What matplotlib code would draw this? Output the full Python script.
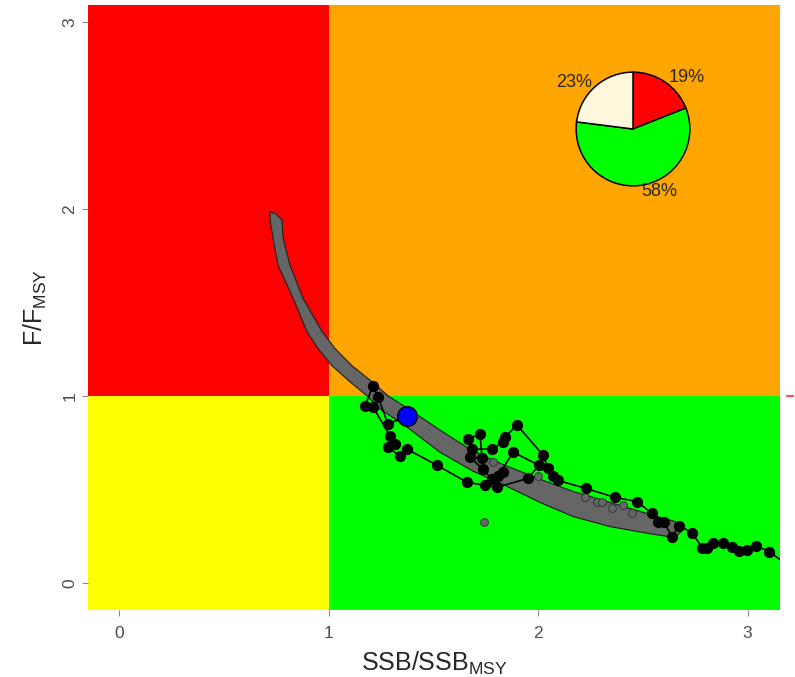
import matplotlib
matplotlib.use('Agg')
import matplotlib.pyplot as plt
from matplotlib.patches import Polygon
import numpy as np

plt.rcParams['font.family'] = ['Liberation Sans', 'DejaVu Sans']
plt.rcParams['mathtext.fontset'] = 'custom'
plt.rcParams['mathtext.rm'] = 'Liberation Sans'
plt.rcParams['mathtext.it'] = 'Liberation Sans'

# ---------------- data ----------------
b_ref = 1.0
f_ref = 1.0
x_ticks = [0, 1, 2, 3]
y_ticks = [0, 1, 2, 3]

# historical trajectory (SSB/SSBmsy, F/Fmsy), oldest first
traj_ssb = [3.203, 3.103, 3.041, 2.998, 2.959, 2.924, 2.881, 2.835, 2.807, 2.783,
            2.735, 2.673, 2.640, 2.601, 2.573, 2.544, 2.473, 2.368, 2.229, 2.095,
            2.072, 2.048, 2.024, 1.900, 1.842, 1.833, 1.780, 1.685, 1.666, 1.723,
            1.733, 1.675, 1.737, 1.780, 1.833, 1.809, 1.881, 2.005, 1.952, 1.804,
            1.747, 1.661, 1.518, 1.375, 1.341, 1.284, 1.317, 1.294, 1.212, 1.174,
            1.212, 1.236, 1.284]
traj_f = [0.086, 0.167, 0.199, 0.177, 0.172, 0.194, 0.215, 0.215, 0.188, 0.188,
          0.269, 0.306, 0.247, 0.323, 0.328, 0.371, 0.435, 0.457, 0.505, 0.548,
          0.570, 0.613, 0.683, 0.844, 0.780, 0.753, 0.715, 0.715, 0.769, 0.796,
          0.667, 0.672, 0.608, 0.554, 0.591, 0.570, 0.699, 0.629, 0.559, 0.511,
          0.522, 0.538, 0.629, 0.715, 0.677, 0.726, 0.742, 0.785, 0.941, 0.946,
          1.054, 0.995, 0.849]

# current status
cur_ssb = [1.375]
cur_f = [0.892]

# posterior cloud outline (upper edge left->right, lower edge right->left)
cloud_up_ssb = [0.721, 0.749, 0.778, 0.783, 0.816, 0.878, 0.969, 1.031, 1.112, 1.208,
                1.284, 1.375, 1.532, 1.690, 1.852, 2.010, 2.167, 2.344, 2.535, 2.654,
                2.692]
cloud_up_f = [1.984, 1.973, 1.941, 1.844, 1.699, 1.522, 1.344, 1.253, 1.161, 1.075,
              1.000, 0.935, 0.817, 0.704, 0.624, 0.554, 0.489, 0.430, 0.366, 0.328,
              0.285]
cloud_lo_ssb = [2.654, 2.535, 2.344, 2.167, 2.010, 1.852, 1.690, 1.532, 1.375, 1.246,
                1.184, 1.103, 1.017, 0.950, 0.897, 0.831, 0.759, 0.735, 0.721]
cloud_lo_f = [0.242, 0.263, 0.301, 0.355, 0.430, 0.516, 0.597, 0.699, 0.833, 0.930,
              1.000, 1.075, 1.161, 1.253, 1.344, 1.522, 1.699, 1.844, 1.941]
# outlying posterior draws
cloud_pts_ssb = [1.742, 1.785, 2.000, 2.224, 2.282, 2.305, 2.353, 2.406, 2.449]
cloud_pts_f = [0.323, 0.645, 0.570, 0.457, 0.430, 0.430, 0.403, 0.419, 0.376]

# pie: share of posterior in each quadrant
pie_labels = ['19%', '58%', '23%']
pie_values = [19, 58, 23]

# ---------------- figure ----------------
W, H = 795, 677
fig = plt.figure(figsize=(W / 100, H / 100), dpi=100)
ax = fig.add_axes([88 / W, 1 - 610 / H, (780 - 88) / W, (610 - 5) / H])
xlim = (-0.148, 3.155)
ylim = (-0.145, 3.09)
ax.set_xlim(*xlim)
ax.set_ylim(*ylim)

big = 10
ax.fill_between([-big, b_ref], f_ref, big, color='#FF0000', lw=0, zorder=0)
ax.fill_between([b_ref, big], f_ref, big, color='#FFA500', lw=0, zorder=0)
ax.fill_between([-big, b_ref], -big, f_ref, color='#FFFF00', lw=0, zorder=0)
ax.fill_between([b_ref, big], -big, f_ref, color='#00FF00', lw=0, zorder=0)

cloud_xy = np.column_stack([cloud_up_ssb + cloud_lo_ssb, cloud_up_f + cloud_lo_f])
ax.add_patch(Polygon(cloud_xy, closed=True, facecolor='#666666',
                     edgecolor='#262626', lw=0.9, zorder=2, joinstyle='round'))
ax.scatter(cloud_pts_ssb, cloud_pts_f, s=32, facecolor='#666666',
           edgecolor='#2e2e2e', lw=0.6, zorder=2)

line_x = traj_ssb + cur_ssb
line_y = traj_f + cur_f
ax.plot(line_x, line_y, '-', color='black', lw=1.2, zorder=4)
ax.scatter(traj_ssb, traj_f, s=50, color='black', zorder=5)
ax.scatter(cur_ssb, cur_f, s=200, facecolor='#0000FF', edgecolor='black',
           lw=1.0, zorder=6)

for s in ax.spines.values():
    s.set_visible(False)
ax.set_xticks(x_ticks)
ax.set_yticks(y_ticks)
ax.set_xticklabels([str(t) for t in x_ticks])
ax.set_yticklabels([str(t) for t in y_ticks], rotation=90, va='center')
ax.tick_params(axis='both', length=4.5, width=0.8, color='#8a8a8a',
               labelcolor='#4d4d4d', labelsize=12.5)
ax.tick_params(axis='x', pad=7)
ax.tick_params(axis='y', pad=3)
ax.set_xlabel(r'$\mathregular{SSB/SSB_{MSY}}$', fontsize=18, color='#262626', labelpad=6)
ax.set_ylabel(r'$\mathregular{F/F_{MSY}}$', fontsize=18, color='#262626', labelpad=10)

# red reference tick on the right
ax2 = ax.twinx()
ax2.set_ylim(*ylim)
for s in ax2.spines.values():
    s.set_visible(False)
ax2.spines['right'].set_position(('outward', 4))
ax2.set_yticks([f_ref])
ax2.set_yticklabels([''])
ax2.tick_params(axis='y', length=6, width=1.2, color='#FF3030')

# pie inset
pax = fig.add_axes([(633 - 58) / W, 1 - (129 + 58) / H, 116 / W, 116 / H])
wedges, texts = pax.pie(pie_values, labels=pie_labels,
                        colors=['#FF0000', '#00FF00', '#FFF8DC'],
                        startangle=90, counterclock=False, labeldistance=1.1,
                        wedgeprops=dict(edgecolor='black', linewidth=1.1),
                        textprops=dict(fontsize=13, color='#262626'))
pax.set_xlim(-1.02, 1.02)
pax.set_ylim(-1.02, 1.02)
pax.set_aspect('equal')

fig.savefig('out.png', dpi=100)
